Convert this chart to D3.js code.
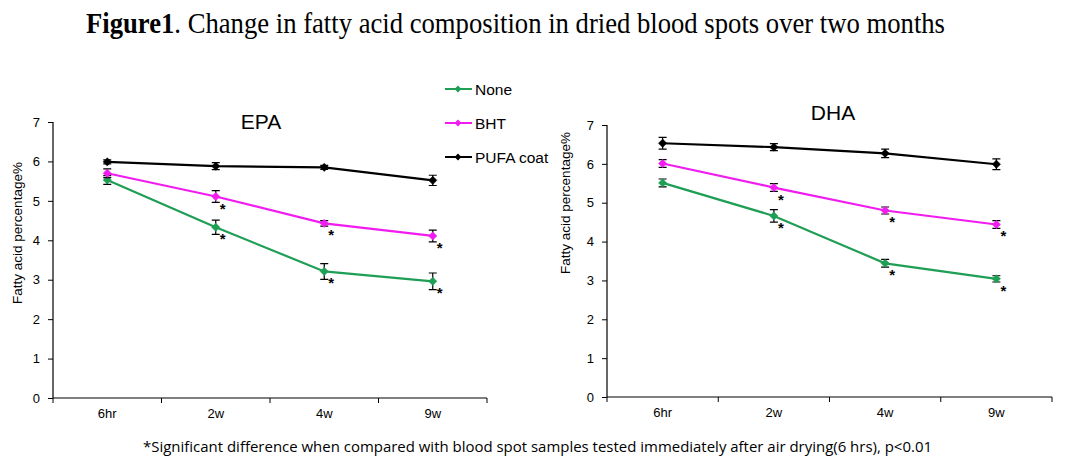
<!DOCTYPE html>
<html><head><meta charset="utf-8">
<script src="https://cdn.jsdelivr.net/npm/d3@7"></script>
<style>body{margin:0;background:#fff}svg{display:block}</style>
</head><body>
<svg id="c" width="1073" height="473"></svg>
<script>
const categories = ["6hr","2w","4w","9w"];
const seriesNames = ["None","BHT","PUFA coat"];
const seriesColors = ["#1f9e55","#f01cf0","#000000"];
// EPA
const epaNone = [5.53,4.33,3.21,2.96];
const epaNoneErr = [0.11,0.18,0.2,0.21];
const epaBHT = [5.70,5.11,4.43,4.11];
const epaBHTErr = [0.11,0.15,0.07,0.15];
const epaPUFA = [5.99,5.88,5.85,5.52];
const epaPUFAErr = [0.05,0.09,0.05,0.13];
// DHA
const dhaNone = [5.51,4.66,3.44,3.04];
const dhaNoneErr = [0.1,0.16,0.1,0.08];
const dhaBHT = [6.01,5.39,4.80,4.44];
const dhaBHTErr = [0.1,0.1,0.09,0.1];
const dhaPUFA = [6.53,6.43,6.27,5.99];
const dhaPUFAErr = [0.15,0.09,0.11,0.14];
// significance flags (asterisks)
const sigNone = [false,true,true,true];
const sigBHT = [false,true,true,true];
const sigPUFA = [false,false,false,false];
const yTicks = [0,1,2,3,4,5,6,7];
const titleBold = "Figure1";
const titleRest = ". Change in fatty acid composition in dried blood spots over two months";
const footnote = "*Significant difference when compared with blood spot samples tested immediately after air drying(6 hrs), p<0.01";
const yLabel = "Fatty acid percentage%";

const svg = d3.select("#c");
const font = "'Liberation Sans', Arial, sans-serif";

// Title
const t = svg.append("text").attr("x",86).attr("y",33)
  .attr("font-family","'Liberation Serif','Times New Roman',serif").attr("font-size",29)
  .attr("textLength",859).attr("lengthAdjust","spacingAndGlyphs");
t.append("tspan").attr("font-weight","bold").text(titleBold);
t.append("tspan").text(titleRest);

// Footnote
svg.append("text").attr("x",143).attr("y",452)
  .attr("font-family","'Open Sans','Liberation Sans',sans-serif").attr("font-size",14.5)
  .attr("textLength",789).attr("lengthAdjust","spacingAndGlyphs").text(footnote);

function panel(cfg){
  const g = svg.append("g");
  const x = d3.scaleBand().domain(categories).range([cfg.x0,cfg.x1]).padding(0);
  const y = d3.scaleLinear().domain([0,7]).range([cfg.y0,cfg.y7]);
  const yAx = g.append("g").attr("transform",`translate(${cfg.x0},0)`)
    .call(d3.axisLeft(y).tickValues(yTicks).tickSize(5).tickPadding(8).tickFormat(d3.format("d")));
  const xAx = g.append("g").attr("transform",`translate(0,${cfg.y0})`)
    .call(d3.axisBottom(x).tickSize(0).tickPadding(11));
  const bounds = categories.map(c=>x(c)).concat([cfg.x1]);
  xAx.selectAll(".bt").data(bounds).enter().append("line")
    .attr("x1",d=>d).attr("x2",d=>d).attr("y1",0).attr("y2",5).attr("stroke","#000");
  [yAx,xAx].forEach(a=>{
    a.select(".domain").attr("stroke","#000").attr("stroke-width",1.2);
    a.selectAll("text").attr("font-family",font).attr("font-size",13).attr("fill","#000");
    a.selectAll("line").attr("stroke","#000");
  });
  xAx.select(".domain").attr("d",`M${cfg.x0},0H${cfg.x1}`);
  yAx.select(".domain").attr("d",`M0,${cfg.y0}V${cfg.y7}`);
  g.append("text").attr("transform",`translate(${cfg.ylx},${cfg.yly}) rotate(-90)`)
    .attr("text-anchor","middle").attr("font-family",font).attr("font-size",13.5).text(yLabel);
  g.append("text").attr("x",cfg.tx).attr("y",cfg.ty).attr("text-anchor","middle")
    .attr("font-family",font).attr("font-size",21).text(cfg.title);
  const cx = c => x(c)+x.bandwidth()/2;
  const line = d3.line().x((d,i)=>cx(categories[i])).y(d=>y(d));
  cfg.series.forEach((s,si)=>{
    const col = seriesColors[si];
    g.append("path").datum(s.v).attr("d",line).attr("fill","none").attr("stroke",col).attr("stroke-width",2.2);
    s.v.forEach((v,i)=>{
      const px = cx(categories[i]);
      const e = s.e[i];
      g.append("path").attr("d",`M${px},${y(v+e)}V${y(v-e)}M${px-4},${y(v+e)}H${px+4}M${px-4},${y(v-e)}H${px+4}`)
        .attr("stroke","#000").attr("stroke-width",1.2).attr("fill","none");
      g.append("path").attr("transform",`translate(${px},${y(v)})`)
        .attr("d",d3.symbol(d3.symbolDiamond2,44)()).attr("fill",col).attr("stroke",col).attr("stroke-width",0.5);
      if(s.sig[i]){
        g.append("text").attr("x",px+7).attr("y",y(v)+17).attr("text-anchor","middle")
          .attr("font-family",font).attr("font-size",15).attr("font-weight","bold").text("*");
      }
    });
  });
}

panel({x0:53,x1:487,y0:398,y7:122,ylx:22,yly:233,tx:261,ty:129,title:"EPA",
  series:[{v:epaNone,e:epaNoneErr,sig:sigNone},{v:epaBHT,e:epaBHTErr,sig:sigBHT},{v:epaPUFA,e:epaPUFAErr,sig:sigPUFA}]});
panel({x0:607,x1:1052,y0:397,y7:125,ylx:570,yly:203,tx:833,ty:120,title:"DHA",
  series:[{v:dhaNone,e:dhaNoneErr,sig:sigNone},{v:dhaBHT,e:dhaBHTErr,sig:sigBHT},{v:dhaPUFA,e:dhaPUFAErr,sig:sigPUFA}]});

const leg = svg.append("g");
seriesNames.forEach((n,i)=>{
  const yy = 89 + i*34;
  leg.append("line").attr("x1",445).attr("x2",472).attr("y1",yy).attr("y2",yy).attr("stroke",seriesColors[i]).attr("stroke-width",2);
  leg.append("path").attr("transform",`translate(458,${yy})`).attr("d",d3.symbol(d3.symbolDiamond2,30)()).attr("fill",seriesColors[i]);
  leg.append("text").attr("x",475).attr("y",yy+5.5).attr("font-family",font).attr("font-size",15.5).text(n);
});
</script>
</body></html>
